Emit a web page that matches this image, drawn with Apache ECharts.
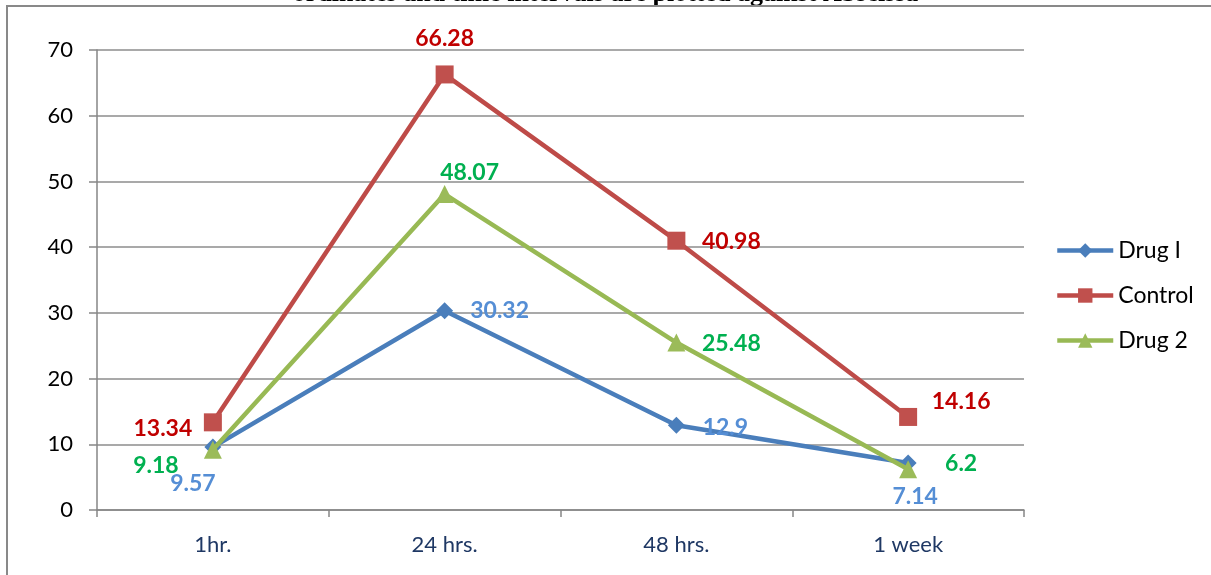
<!DOCTYPE html>
<html>
<head>
<meta charset="utf-8">
<style>
  html, body { margin: 0; padding: 0; background: #ffffff; }
  #chart { width: 1211px; height: 575px; }
</style>
<script src="https://cdn.jsdelivr.net/npm/echarts@6/dist/echarts.min.js"></script>
</head>
<body>
<div id="chart"></div>
<script>
// Time points on the x axis
const categories = ['1hr.', '24 hrs.', '48 hrs.', '1 week'];

// Series values
const drugOne = [9.57, 30.32, 12.9, 7.14];
const control = [13.34, 66.28, 40.98, 14.16];
const drugTwo = [9.18, 48.07, 25.48, 6.2];

// Y axis ticks
const yTicks = [0, 10, 20, 30, 40, 50, 60, 70];

// Where each value label sits relative to its point (pixels)
const labelShift = {
  drugOne: [[-20, 36], [55, 0], [49, 2], [7, 33]],
  control: [[-50, 6], [0, -36], [55, 1], [53, -15]],
  drugTwo: [[-57, 16], [25, -22], [55, 1], [53, -6]]
};

const FONT = 'Lato, "Open Sans", sans-serif';

function withLabels(values, shifts, color) {
  return values.map((v, i) => ({
    value: v,
    label: {
      show: true,
      position: 'inside',
      offset: shifts[i],
      color: color,
      fontFamily: FONT,
      fontWeight: 'bold',
      fontSize: 23
    }
  }));
}

const chart = echarts.init(document.getElementById('chart'), null, { renderer: 'canvas' });

chart.setOption({
  backgroundColor: '#ffffff',
  animation: false,
  graphic: [
    {
      type: 'text',
      left: 'center',
      top: -19,
      z: 1,
      style: {
        text: 'ordinates and time intervals are plotted against Abscissa',
        font: 'bold 26px "Liberation Serif", "Times New Roman", serif',
        fill: '#000000'
      }
    },
    {
      type: 'rect',
      z: 2,
      shape: { x: 7, y: 6, width: 1400, height: 800 },
      style: { fill: 'none', stroke: '#898989', lineWidth: 2 }
    }
  ],
  grid: { left: 97, right: 187, top: 50, bottom: 65 },
  legend: {
    orient: 'vertical',
    left: 1050,
    top: 234,
    itemWidth: 56,
    itemHeight: 18,
    itemGap: 22,
    lineStyle: { width: 4.5 },
    textStyle: { fontFamily: FONT, fontSize: 23, color: '#000000' },
    data: ['Drug I', 'Control', 'Drug 2']
  },
  xAxis: {
    type: 'category',
    data: categories,
    boundaryGap: true,
    axisLine: { lineStyle: { color: '#868686', width: 1.5 } },
    axisTick: { show: true, inside: false, length: 7, lineStyle: { color: '#868686', width: 1.5 } },
    axisLabel: { margin: 24, color: '#1F3864', fontFamily: FONT, fontSize: 22 }
  },
  yAxis: {
    type: 'value',
    min: yTicks[0],
    max: yTicks[yTicks.length - 1],
    interval: 10,
    axisLine: { show: true, lineStyle: { color: '#868686', width: 1.5 } },
    axisTick: { show: true, inside: false, length: 8, lineStyle: { color: '#868686', width: 1.5 } },
    splitLine: { show: true, lineStyle: { color: '#8c8c8c', width: 1.5 } },
    axisLabel: { margin: 24, color: '#000000', fontFamily: FONT, fontSize: 22 }
  },
  series: [
    {
      name: 'Drug I',
      type: 'line',
      data: withLabels(drugOne, labelShift.drugOne, '#558ED5'),
      symbol: 'diamond',
      symbolSize: 17,
      lineStyle: { color: '#4A7EBB', width: 4.5 },
      itemStyle: { color: '#4A7EBB' },
      z: 3
    },
    {
      name: 'Control',
      type: 'line',
      data: withLabels(control, labelShift.control, '#C00000'),
      symbol: 'rect',
      symbolSize: 18,
      lineStyle: { color: '#BE4B48', width: 4.5 },
      itemStyle: { color: '#C0504D' },
      z: 4
    },
    {
      name: 'Drug 2',
      type: 'line',
      data: withLabels(drugTwo, labelShift.drugTwo, '#00B050'),
      symbol: 'triangle',
      symbolSize: 18,
      lineStyle: { color: '#98B954', width: 4.5 },
      itemStyle: { color: '#9BBB59' },
      z: 5
    }
  ]
});
</script>
</body>
</html>
